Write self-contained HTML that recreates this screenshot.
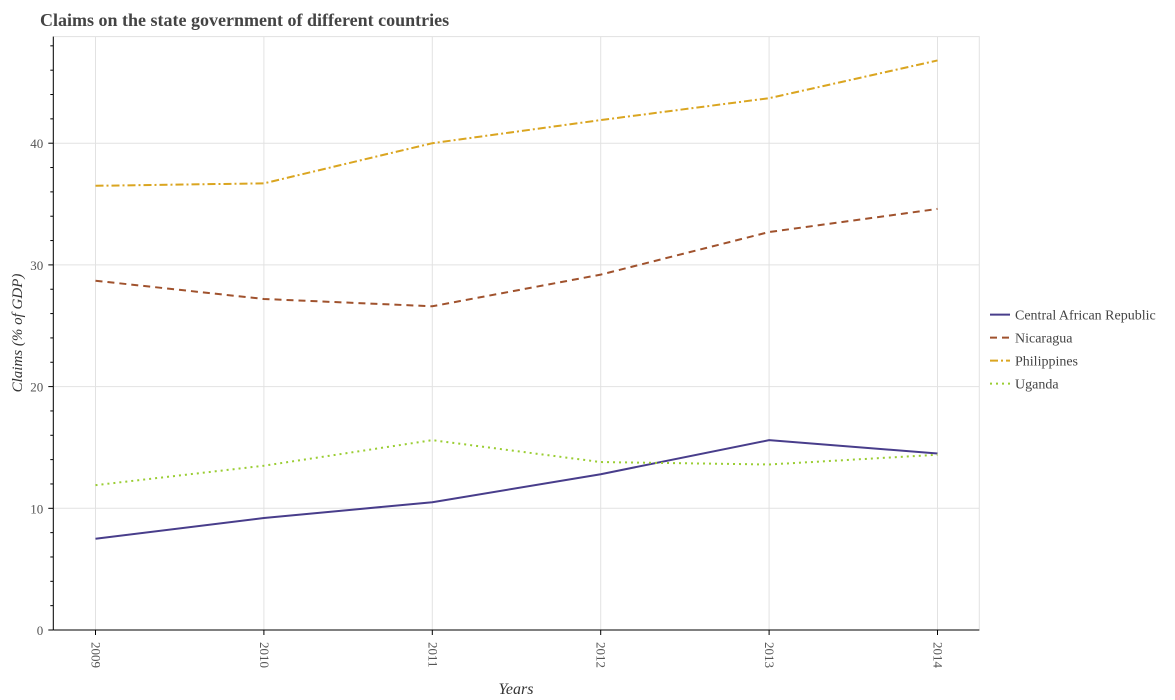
<!DOCTYPE html>
<html><head><meta charset="utf-8"><style>body{margin:0;background:#fff}svg{display:block}</style></head>
<body>
<svg id="chart" width="1175" height="700" xmlns="http://www.w3.org/2000/svg" font-family="Liberation Serif, serif">
<text x="40" y="26" font-size="18" font-weight="bold" fill="#444">Claims on the state government of different countries</text>
<g id="grid"></g><g id="axes"></g><g id="series"></g><g id="legend"></g>
<text transform="translate(22,333) rotate(-90)" text-anchor="middle" font-size="15" font-style="italic" fill="#333">Claims (% of GDP)</text>
<text x="516" y="694" text-anchor="middle" font-size="16" font-style="italic" fill="#333">Years</text>
</svg>
<script>
const years=["2009","2010","2011","2012","2013","2014"];
const car=[7.5,9.2,10.5,12.8,15.6,14.5];
const nicaragua=[28.7,27.2,26.6,29.2,32.7,34.6];
const philippines=[36.5,36.7,40.0,41.9,43.7,46.8];
const uganda=[11.9,13.5,15.6,13.8,13.6,14.4];
const yTicks=[0,10,20,30,40];
const seriesNames=["Central African Republic","Nicaragua","Philippines","Uganda"];
const NS="http://www.w3.org/2000/svg";
const L=53.3,R=979.3,T=36.6,B=630;
const x=i=>95.5+i*168.4;
const y=v=>B-v*12.17;
function mk(t,a,p){const e=document.createElementNS(NS,t);for(const k in a)e.setAttribute(k,a[k]);p.appendChild(e);return e;}
const g=document.getElementById('grid'),ax=document.getElementById('axes'),sg=document.getElementById('series'),lg=document.getElementById('legend');
yTicks.forEach(v=>{const l=mk('line',{x1:L,x2:R,y1:y(v),y2:y(v),stroke:'#e2e2e2'},g);


const t=mk('text',{x:L-10,y:y(v)+5,'text-anchor':'end','font-size':13,fill:'#555'},ax);t.textContent=v;

});
for(let v=0;v<=48;v+=2){mk('line',{x1:L-(v%10?3:5),x2:L,y1:y(v),y2:y(v),stroke:'#000'},ax);}
years.forEach((yr,i)=>{const l=mk('line',{x1:x(i),x2:x(i),y1:T,y2:B,stroke:'#e2e2e2'},g);


mk('line',{x1:x(i),x2:x(i),y1:B,y2:B+5,stroke:'#000'},ax);
const t=mk('text',{transform:`translate(${x(i)-4},${B+12}) rotate(90)`,'font-size':13,fill:'#555'},ax);t.textContent=yr;

});
mk('rect',{x:L,y:T,width:R-L,height:B-T,fill:'none',stroke:'#e2e2e2'},g);
mk('line',{x1:L,x2:L,y1:T,y2:B,stroke:'#000'},ax);
mk('line',{x1:L,x2:R,y1:B,y2:B,stroke:'#000'},ax);
const styles=[{c:'#483d8b',d:''},{c:'#a0522d',d:'7,5'},{c:'#daa520',d:'8,3,2,3'},{c:'#9acd32',d:'2,4'}];
[car,nicaragua,philippines,uganda].forEach((arr,k)=>{
const p=mk('polyline',{points:arr.map((v,i)=>x(i)+','+y(v)).join(' '),fill:'none',stroke:styles[k].c,'stroke-width':2,'stroke-dasharray':styles[k].d},sg);


const ly=314.6+k*23;
const li=mk('line',{x1:990,x2:1010,y1:ly,y2:ly,stroke:styles[k].c,'stroke-width':2,'stroke-dasharray':styles[k].d},lg);


const t=mk('text',{x:1015,y:ly+5,'font-size':14,fill:'#444'},lg);t.textContent=seriesNames[k];

});
</script>
</body></html>
